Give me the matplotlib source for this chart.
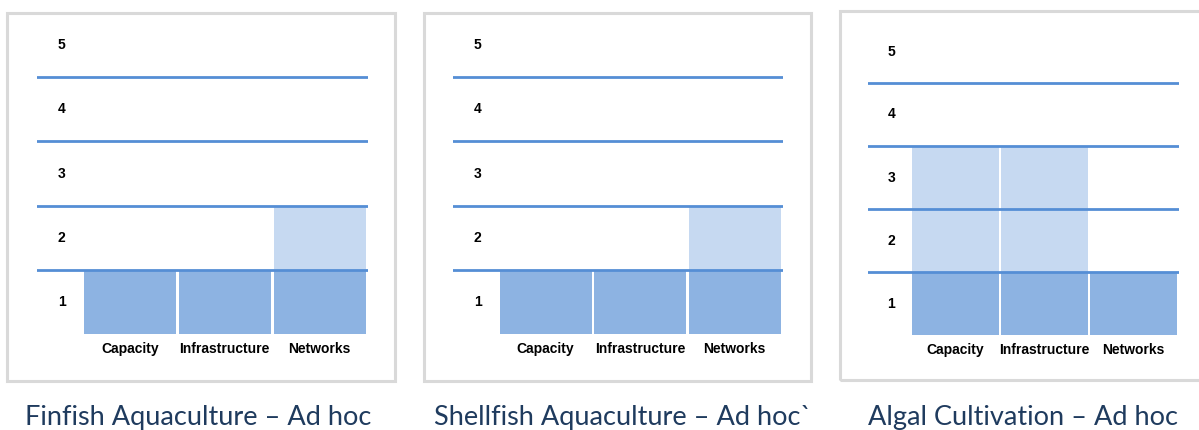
import matplotlib.pyplot as plt
from matplotlib.patches import Rectangle

# data
categories = ['Capacity', 'Infrastructure', 'Networks']
levels = [1, 2, 3, 4, 5]
finfish = [1, 1, 2]
shellfish = [1, 1, 2]
algal = [3, 3, 1]
titles = ['Finfish Aquaculture \u2013 Ad hoc',
          'Shellfish Aquaculture \u2013 Ad hoc`',
          'Algal Cultivation \u2013 Ad hoc']

W, H = 1199, 430
line_color = '#558ED5'
dark_blue = '#8DB3E2'
light_blue = '#C6D9F1'
box_color = '#D9D9D9'
title_color = '#1F3B5E'

fig = plt.figure(figsize=(W / 100, H / 100), dpi=100)


def px_rect(x0, y0, x1, y1):
    # pixel box (top-left origin) -> figure fraction rect
    return [x0 / W, 1 - y1 / H, (x1 - x0) / W, (y1 - y0) / H]


panels = [
    # values, axes box (px), frame box (px), title center x
    (finfish, (37, 13, 368, 334), (7, 13, 395, 381), 198),
    (shellfish, (453, 13, 783, 334), (424, 13, 811, 381), 623),
    (algal, (868, 20, 1179, 335), (840, 11, 1210, 380), 1023),
]

for (values, axbox, frame, tx), title in zip(panels, titles):
    # grey frame around each panel
    fx = px_rect(*frame)
    fig.add_artist(Rectangle((fx[0], fx[1]), fx[2], fx[3],
                             transform=fig.transFigure, fill=False,
                             edgecolor=box_color, linewidth=2.2))

    ax = fig.add_axes(px_rect(*axbox))
    xs = list(range(len(categories)))
    base = [min(v, 1) for v in values]
    upper = [max(v - 1, 0) for v in values]
    ax.bar(xs, base, width=0.97, color=dark_blue, zorder=1)
    ax.bar(xs, upper, bottom=1, width=0.97, color=light_blue, zorder=1)

    for lv in levels[:-1]:
        ax.axhline(lv, color=line_color, linewidth=2.0, zorder=2)

    for lv in levels:
        ax.text(-0.72, lv - 0.5, str(lv), ha='center', va='center',
                fontsize=10, fontweight='bold', family='Liberation Sans')

    ax.set_xlim(-0.98, 2.51)
    ax.set_ylim(0, 5)
    ax.set_xticks(xs)
    ax.set_xticklabels(categories, fontsize=10, fontweight='bold',
                       family='Liberation Sans')
    ax.tick_params(axis='x', length=0, pad=6)
    ax.set_yticks([])
    for s in ax.spines.values():
        s.set_visible(False)
    ax.patch.set_alpha(0)

    fig.text(tx / W, 1 - 425 / H, title, ha='center', va='baseline',
             fontsize=19.5, color=title_color, family='Lato')

fig.savefig('out.png', dpi=100)
